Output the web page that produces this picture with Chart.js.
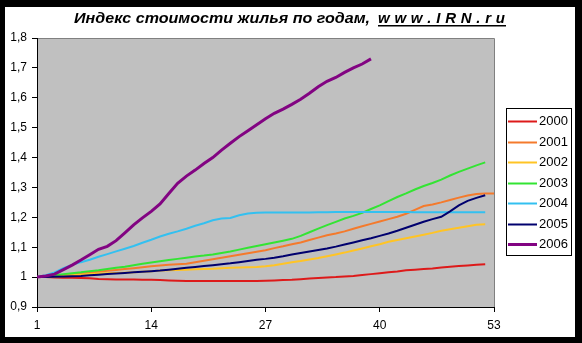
<!DOCTYPE html>
<html><head><meta charset="utf-8">
<script src="https://cdn.jsdelivr.net/npm/chart.js@4"></script>
<style>html,body{margin:0;padding:0;background:#000;overflow:hidden}</style>
</head><body>
<canvas id="c" width="582" height="343"></canvas>
<script>
const seriesNames = ['2000','2001','2002','2003','2004','2005','2006'];
const seriesColors = ['#dd1a1a','#f47a2c','#ffc425','#33e433','#33c0f0','#00006e','#820482'];
const titleMain = 'Индекс стоимости жилья по годам,';
const titleLink = 'www.IRN.ru';
const yMin = 0.9, yMax = 1.8, yStep = 0.1;
const xMin = 1, xMax = 53, xStep = 13;

const s2000 = [1.0,1.0,0.999,0.998,0.998,0.997,0.996,0.994,0.993,0.992,0.992,0.992,0.991,0.991,0.99,0.989,0.988,0.987,0.987,0.987,0.987,0.987,0.987,0.987,0.987,0.987,0.988,0.989,0.99,0.991,0.993,0.995,0.997,0.999,1.0,1.002,1.004,1.007,1.01,1.013,1.016,1.019,1.023,1.025,1.027,1.029,1.032,1.035,1.037,1.039,1.041,1.043];
const s2001 = [1.0,1.002,1.004,1.007,1.01,1.012,1.015,1.018,1.021,1.024,1.027,1.03,1.033,1.036,1.039,1.041,1.043,1.045,1.05,1.055,1.06,1.065,1.07,1.075,1.08,1.085,1.09,1.097,1.103,1.11,1.116,1.124,1.132,1.14,1.146,1.153,1.162,1.17,1.178,1.186,1.194,1.202,1.212,1.225,1.238,1.243,1.25,1.258,1.266,1.273,1.278,1.28,1.28];
const s2002 = [1.0,1.001,1.002,1.004,1.006,1.008,1.01,1.012,1.013,1.014,1.015,1.016,1.018,1.02,1.022,1.023,1.024,1.025,1.026,1.027,1.028,1.03,1.031,1.032,1.033,1.034,1.036,1.04,1.045,1.05,1.054,1.059,1.064,1.07,1.076,1.082,1.089,1.096,1.103,1.11,1.118,1.124,1.13,1.136,1.142,1.148,1.155,1.16,1.165,1.17,1.175,1.177];
const s2003 = [1.0,1.003,1.006,1.01,1.013,1.016,1.02,1.023,1.027,1.031,1.035,1.04,1.045,1.049,1.053,1.057,1.061,1.065,1.069,1.072,1.076,1.081,1.086,1.092,1.098,1.104,1.11,1.116,1.122,1.128,1.138,1.15,1.162,1.174,1.185,1.196,1.205,1.215,1.228,1.24,1.254,1.268,1.28,1.293,1.305,1.315,1.326,1.34,1.352,1.363,1.374,1.384];
const s2004 = [1.0,1.006,1.016,1.03,1.041,1.05,1.058,1.068,1.077,1.086,1.095,1.104,1.115,1.125,1.136,1.145,1.153,1.162,1.172,1.18,1.19,1.196,1.198,1.207,1.213,1.215,1.216,1.216,1.216,1.216,1.216,1.216,1.217,1.217,1.218,1.218,1.218,1.218,1.218,1.218,1.218,1.218,1.218,1.217,1.217,1.217,1.217,1.217,1.217,1.217,1.217,1.217];
const s2005 = [1.0,1.0,1.001,1.002,1.003,1.004,1.006,1.008,1.01,1.012,1.014,1.016,1.018,1.02,1.022,1.025,1.028,1.031,1.034,1.037,1.04,1.043,1.046,1.05,1.054,1.058,1.061,1.065,1.07,1.076,1.081,1.086,1.091,1.096,1.102,1.109,1.116,1.123,1.13,1.138,1.146,1.155,1.165,1.175,1.185,1.194,1.202,1.22,1.24,1.255,1.265,1.274];
const s2006 = [1.0,1.004,1.01,1.025,1.04,1.057,1.075,1.093,1.103,1.122,1.148,1.175,1.198,1.22,1.245,1.28,1.314,1.338,1.358,1.38,1.4,1.425,1.448,1.47,1.49,1.51,1.53,1.548,1.562,1.578,1.595,1.615,1.637,1.655,1.668,1.685,1.7,1.713,1.73];
const allSeries = [s2000,s2001,s2002,s2003,s2004,s2005,s2006];

const datasets = allSeries.map((vals, k) => ({
  label: seriesNames[k],
  data: vals.map((v, i) => ({x: i + 1, y: v})),
  borderColor: seriesColors[k],
  backgroundColor: seriesColors[k],
  borderWidth: k === 6 ? 3 : 2,
  pointRadius: 0,
  tension: 0,
  fill: false,
  order: 6 - k
}));

const frame = {
  id: 'frame',
  beforeDraw(chart) {
    const ctx = chart.ctx, a = chart.chartArea;
    ctx.save();
    ctx.fillStyle = '#000';
    ctx.fillRect(0, 0, chart.width, chart.height);
    ctx.fillStyle = '#fff';
    ctx.fillRect(5, 7, 570, 330);
    ctx.fillStyle = '#c0c0c0';
    ctx.fillRect(a.left, a.top, a.right - a.left, a.bottom - a.top);
    ctx.strokeStyle = '#808080';
    ctx.lineWidth = 1;
    ctx.beginPath();
    ctx.moveTo(a.left, a.top + 0.5);
    ctx.lineTo(a.right + 0.5, a.top + 0.5);
    ctx.lineTo(a.right + 0.5, a.bottom);
    ctx.stroke();
    ctx.restore();
  },
  afterDraw(chart) {
    const ctx = chart.ctx;
    ctx.save();
    // title
    ctx.fillStyle = '#000';
    ctx.font = 'italic bold 15px "Liberation Sans", Arial, sans-serif';
    ctx.textBaseline = 'alphabetic';
    // main part: stretched horizontally to fit its span
    const w1 = ctx.measureText(titleMain).width;
    ctx.save();
    ctx.translate(74, 23);
    ctx.scale(296 / w1, 1);
    ctx.fillText(titleMain, 0, 0);
    ctx.restore();
    // link part: letter-spaced
    const chars = Array.from(titleLink);
    const widths = chars.map(c => ctx.measureText(c).width);
    const total = widths.reduce((s, w) => s + w, 0);
    const gap = (127 - total) / (chars.length - 1);
    let x = 378;
    chars.forEach((c, i) => { ctx.fillText(c, x, 23); x += widths[i] + gap; });
    ctx.fillRect(378, 25, 128, 1.5);
    // legend
    ctx.fillStyle = '#fff';
    ctx.fillRect(506, 108, 66, 148);
    ctx.strokeStyle = '#000';
    ctx.lineWidth = 1;
    ctx.strokeRect(506.5, 108.5, 65, 147);
    ctx.font = '13px "Liberation Sans", Arial, sans-serif';
    ctx.textBaseline = 'middle';
    chart.data.datasets.forEach((ds, k) => {
      const y = 121 + k * 20.5;
      ctx.strokeStyle = ds.borderColor;
      ctx.lineWidth = k === 6 ? 3 : 2;
      ctx.beginPath();
      ctx.moveTo(508, Math.round(y) + 0.5);
      ctx.lineTo(537, Math.round(y) + 0.5);
      ctx.stroke();
      ctx.fillStyle = '#000';
      ctx.fillText(ds.label, 539, y + 0.5);
    });
    ctx.restore();
  }
};

new Chart(document.getElementById('c'), {
  type: 'line',
  data: { datasets },
  plugins: [frame],
  options: {
    responsive: false,
    animation: false,
    events: [],
    layout: { padding: { left: 5, top: 38, right: 88, bottom: 6 } },
    plugins: { legend: { display: false }, tooltip: { enabled: false }, title: { display: false } },
    scales: {
      x: {
        type: 'linear', min: xMin, max: xMax,
        afterFit(s) { s.height = 30; },
        border: { display: true, color: '#000', width: 1 },
        grid: { drawOnChartArea: false, drawTicks: true, tickLength: 5, color: '#000' },
        ticks: { stepSize: xStep, autoSkip: false, maxRotation: 0, padding: 6, color: '#000',
                 font: { family: '"Liberation Sans", Arial, sans-serif', size: 12 } }
      },
      y: {
        min: yMin, max: yMax,
        afterFit(s) { s.width = 32; },
        border: { display: true, color: '#000', width: 1 },
        grid: { drawOnChartArea: false, drawTicks: true, tickLength: 5, color: '#000' },
        ticks: { stepSize: yStep, padding: 5, color: '#000',
                 font: { family: '"Liberation Sans", Arial, sans-serif', size: 12 },
                 callback: v => String(Number(v.toFixed(1))).replace('.', ',') }
      }
    }
  }
});
</script>
</body></html>
